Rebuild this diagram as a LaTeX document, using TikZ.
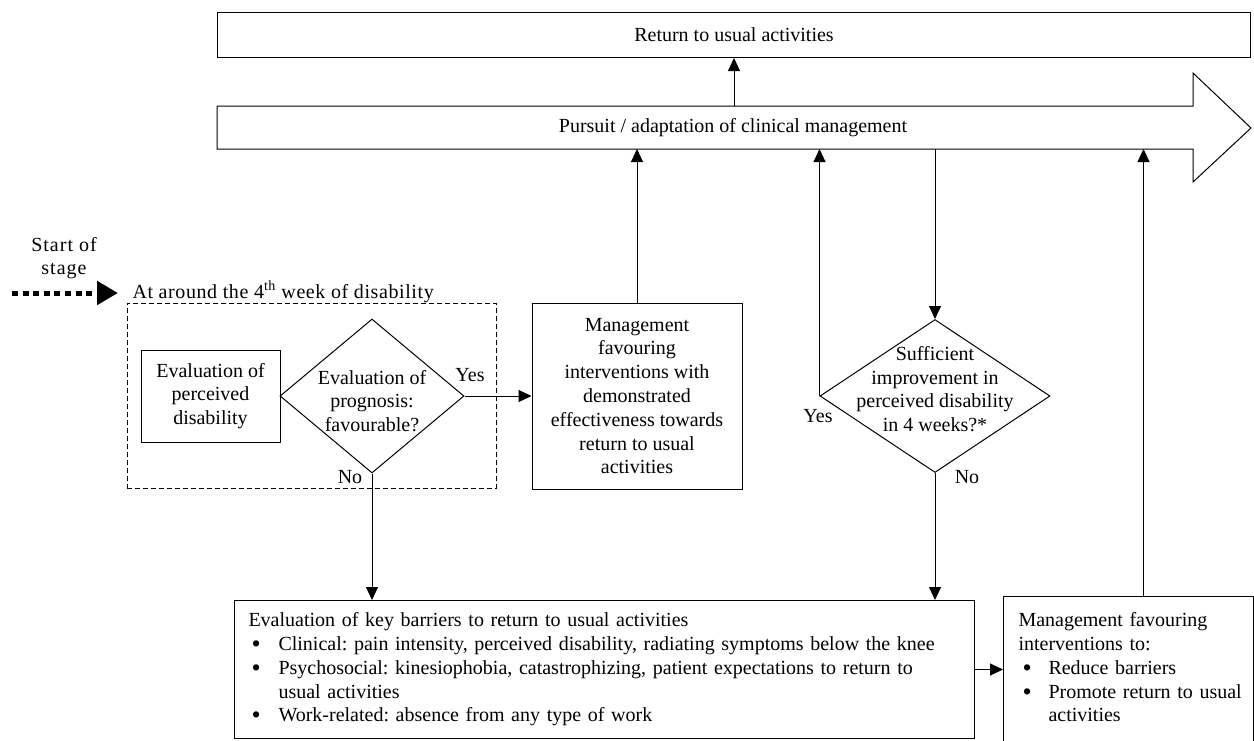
\documentclass[tikz,border=0pt]{standalone}
\usepackage{fontspec}
\setmainfont{Liberation Serif}
\usetikzlibrary{arrows.meta,shapes.geometric}
\newcommand{\bigbul}{\raisebox{-2pt}{\scalebox{1.3}{\textbullet}}}
\begin{document}
\frenchspacing
\begin{tikzpicture}[x=1pt,y=-1pt,
  font=\fontsize{20}{23.8}\selectfont,
  line width=1pt,
  box/.style={draw, inner sep=0pt, align=center},
  arr/.style={-{Triangle[width=12pt,length=13pt]}},
  dia/.style={draw, diamond, inner sep=0pt},
  lbl/.style={inner sep=0pt}]

\useasboundingbox (0,0) rectangle (1254,740);

% top box
\node[box, minimum width=1033pt, minimum height=45pt, anchor=north west] (ret) at (217,12) {Return to usual activities};

% big arrow (pursuit)
\draw (217,106) -- (1193,106) -- (1193,73) -- (1251,128) -- (1193,182) -- (1193,149) -- (217,149) -- cycle;
\node[lbl] (purs) at (733,127.5) {Pursuit / adaptation of clinical management};
\coordinate (bodyT) at (733,106);
\coordinate (bodyB) at (0,149);
\draw[arr] (ret.south |- bodyT) -- (ret.south);

% start of stage
\node[lbl, align=center, font=\fontsize{20}{23}\selectfont\addfontfeature{LetterSpace=5}] (start) at (64,258) {Start of\\stage};
\coordinate (s0) at (12,293);
\coordinate (s1) at (118,293);
\draw[line width=5pt, dash pattern=on 6pt off 4.6pt, -{Triangle[width=23pt,length=21pt]}] (s0) -- (s1);
\node[lbl, anchor=west, font=\fontsize{20}{23.8}\selectfont\addfontfeature{LetterSpace=3}] (week) at (132,292) {At around the 4\textsuperscript{th} week of disability};

% dashed stage frame
\node[draw, line width=0.9pt, dash pattern=on 5pt off 3pt, minimum width=369pt, minimum height=185pt, inner sep=0pt, anchor=north west] (stg) at (127,303) {};

% evaluation box
\node[box, minimum width=139pt, minimum height=92pt] (evd) at (210.5,396) {Evaluation of\\perceived\\disability};

% left diamond
\node[dia, minimum width=184pt, minimum height=154pt] (d1) at (372,396) {};
\node[lbl, align=center] (d1t) at (372,401) {Evaluation of\\prognosis:\\favourable?};

% management box
\node[box, minimum width=210pt, minimum height=186pt] (mg) at (637,396) {Management\\favouring\\interventions with\\demonstrated\\effectiveness towards\\return to usual\\activities};

% right diamond
\node[dia, minimum width=230pt, minimum height=153pt] (d2) at (935,396) {};
\node[lbl, align=center] (d2t) at (935,389) {Sufficient\\improvement in\\perceived disability\\in 4 weeks?*};

% barrier box
\node[draw, anchor=north west, minimum width=740pt, minimum height=138pt, inner xsep=14pt, inner ysep=0pt, text width=712pt, align=left] (bar) at (234,600) {%
\begin{tabular}{@{\hspace{3pt}}p{27pt}@{}l@{}}
\multicolumn{2}{@{}l@{}}{Evaluation of key barriers to return to usual activities}\\
\bigbul & Clinical: pain intensity, perceived disability, radiating symptoms below the knee\\
\bigbul & Psychosocial: kinesiophobia, catastrophizing, patient expectations to return to\\
 & usual activities\\
\bigbul & Work-related: absence from any type of work
\end{tabular}};

% right box
\node[draw, anchor=north west, minimum width=250pt, minimum height=146pt, inner xsep=15pt, inner ysep=0pt, text width=220pt, align=left] (rb) at (1003,596) {%
\begin{tabular}{@{\hspace{4pt}}p{26pt}@{}l@{}}
\multicolumn{2}{@{}l@{}}{Management favouring}\\
\multicolumn{2}{@{}l@{}}{interventions to:}\\
\bigbul & Reduce barriers\\
\bigbul & Promote return to usual\\
 & activities
\end{tabular}};

% labels
\node[lbl] (y1) at (470,375) {Yes};
\node[lbl] (n1) at (350,477) {No};
\node[lbl] (y2) at (818,416) {Yes};
\node[lbl] (n2) at (967,477) {No};

% connectors
\draw[arr] (d1.east) -- (mg.west);
\draw[arr] (d1.south) -- (d1.south |- bar.north);
\draw[arr] (mg.north) -- (mg.north |- bodyB);
\draw[arr] (d2.west) -- (d2.west |- bodyB);
\draw[arr] (d2.north |- bodyB) -- (d2.north);
\draw[arr] (d2.south) -- (d2.south |- bar.north);
\draw[arr] (bar.east) -- (bar.east -| rb.west);
\draw[arr] ([xshift=15pt]rb.north) -- ([xshift=15pt]rb.north |- bodyB);
\end{tikzpicture}
\end{document}
